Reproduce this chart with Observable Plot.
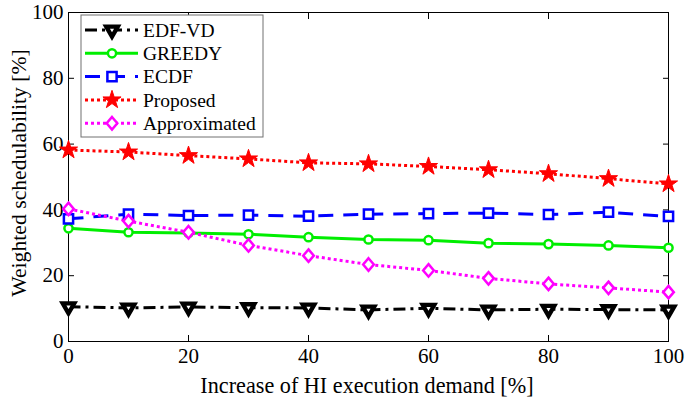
<!DOCTYPE html>
<html><head><meta charset="utf-8">
<script src="https://cdn.jsdelivr.net/npm/d3@7"></script>
<script src="https://cdn.jsdelivr.net/npm/@observablehq/plot@0.6"></script>
<style>
body{margin:0;background:#fff;}
#wrap{position:relative;width:685px;height:403px;}
#wrap svg{font-family:"Liberation Serif","Times New Roman",serif;}
</style></head>
<body><div id="wrap"></div>
<script>
const xs = [0,10,20,30,40,50,60,70,80,90,100];
const edfvd = [10.6,10.2,10.5,10.3,10.2,9.6,10.1,9.6,9.8,9.7,9.6];
const greedy = [34.4,33.2,33.0,32.6,31.7,31.0,30.8,29.9,29.6,29.2,28.5];
const ecdf = [37.3,38.7,38.3,38.4,38.1,38.7,38.9,39.0,38.6,39.3,38.0];
const proposed = [58.2,57.6,56.5,55.5,54.3,54.0,53.2,52.2,51.0,49.5,47.9];
const approx = [40.3,36.6,33.2,29.2,26.1,23.4,21.6,19.2,17.5,16.3,15.0];
const xTicks = [0,20,40,60,80,100];
const yTicks = [0,20,40,60,80,100];
const seriesNames = ["EDF-VD","GREEDY","ECDF","Proposed","Approximated"];

// wide diamond symbol (MATLAB-like)
const wideDiamond = {
  draw(context, size) {
    const h = Math.sqrt(size / 1.7);   // half height
    const w = h * 0.85;                // half width
    context.moveTo(0, -h);
    context.lineTo(w, 0);
    context.lineTo(0, h);
    context.lineTo(-w, 0);
    context.closePath();
  }
};
const symMap = {triangle:d3.symbolTriangle, circle:d3.symbolCircle, square:d3.symbolSquare, star:d3.symbolStar, diamond:wideDiamond};

const styles = {
  "EDF-VD": {stroke:"#000000", dash:"12,5,3,5", symbol:"triangle", rotate:180, r:4.3, fill:"white", sw:3, msw:4.3},
  "GREEDY": {stroke:"#00ee00", dash:null, symbol:"circle", rotate:0, r:4.1, fill:"white", sw:3, msw:2.5},
  "ECDF": {stroke:"#0000ff", dash:"15,10", symbol:"square", rotate:0, r:5.2, fill:"white", sw:3, msw:2.5},
  "Proposed": {stroke:"#ff0000", dash:"3,3", symbol:"star", rotate:0, r:5.7, fill:"#ff0000", sw:3, msw:1},
  "Approximated": {stroke:"#ff00ff", dash:"3,3", symbol:"diamond", rotate:0, r:4.6, fill:"white", sw:3, msw:2.5}
};
const seriesVals = [edfvd, greedy, ecdf, proposed, approx];
const marks = [];
seriesNames.forEach((name, i) => {
  const s = styles[name];
  const data = xs.map((x, j) => ({x, y: seriesVals[i][j]}));
  marks.push(Plot.line(data, {x:"x", y:"y", stroke:s.stroke, strokeWidth:s.sw, strokeDasharray:s.dash || undefined, strokeLinecap:"butt"}));
});
seriesNames.forEach((name, i) => {
  const s = styles[name];
  const data = xs.map((x, j) => ({x, y: seriesVals[i][j]}));
  marks.push(Plot.dot(data, {x:"x", y:"y", symbol:()=>symMap[s.symbol], r:s.r, stroke:s.stroke, fill:s.fill, strokeWidth:s.msw, rotate:s.rotate, strokeLinejoin:"miter"}));
});

const chart = Plot.plot({
  width:685, height:403,
  marginLeft:68, marginRight:17, marginTop:12, marginBottom:62,
  style:{fontFamily:"Liberation Serif, Times New Roman, serif", fontSize:"21px", color:"#000", background:"white"},
  x:{domain:[0,100]},
  y:{domain:[0,100]},
  symbol:{type:"identity"},
  marks:[
    Plot.frame({stroke:"#000", strokeWidth:1}),
    Plot.axisX(xTicks, {anchor:"bottom", tickSize:0, tickPadding:7, fontSize:21, label:null}),
    Plot.axisX(xTicks, {anchor:"bottom", tickSize:-6, text:null, label:null}),
    Plot.axisX(xTicks, {anchor:"top", tickSize:-6, text:null, label:null}),
    Plot.axisY(yTicks, {anchor:"left", tickSize:0, tickPadding:5, fontSize:21, label:null}),
    Plot.axisY(yTicks, {anchor:"left", tickSize:-6, text:null, label:null}),
    Plot.axisY(yTicks, {anchor:"right", tickSize:-6, text:null, label:null}),
    ...marks
  ]
});
document.getElementById("wrap").appendChild(chart);

// axis titles
const svg = d3.select(chart);
svg.append("text").attr("x", 367).attr("y", 393).attr("text-anchor","middle")
  .attr("font-size", 22.2).attr("fill","#000").text("Increase of HI execution demand [%]");
svg.append("text").attr("transform","translate(26,173) rotate(-90)").attr("text-anchor","middle")
  .attr("font-size", 21.7).attr("fill","#000").text("Weighted schedulability [%]");

// legend
const lg = svg.append("g").attr("transform","translate(81,15)");
lg.append("rect").attr("width",182).attr("height",122).attr("fill","white").attr("stroke","#707070").attr("stroke-width",1);
seriesNames.forEach((name, i) => {
  const s = styles[name];
  const yy = 15 + i*23.3;
  lg.append("line").attr("x1",4).attr("x2",57).attr("y1",yy).attr("y2",yy)
    .attr("stroke",s.stroke).attr("stroke-width",s.sw).attr("stroke-dasharray",s.dash);
  lg.append("path").attr("d", d3.symbol(symMap[s.symbol], Math.PI*s.r*s.r)())
    .attr("transform",`translate(31,${yy}) rotate(${s.rotate})`)
    .attr("fill",s.fill).attr("stroke",s.stroke).attr("stroke-width",s.msw).attr("stroke-linejoin","miter");
  lg.append("text").attr("x",62).attr("y",yy).attr("dy","0.35em").attr("text-anchor","start")
    .attr("font-size",19.5).attr("fill","#000").text(name);
});
</script></body></html>
